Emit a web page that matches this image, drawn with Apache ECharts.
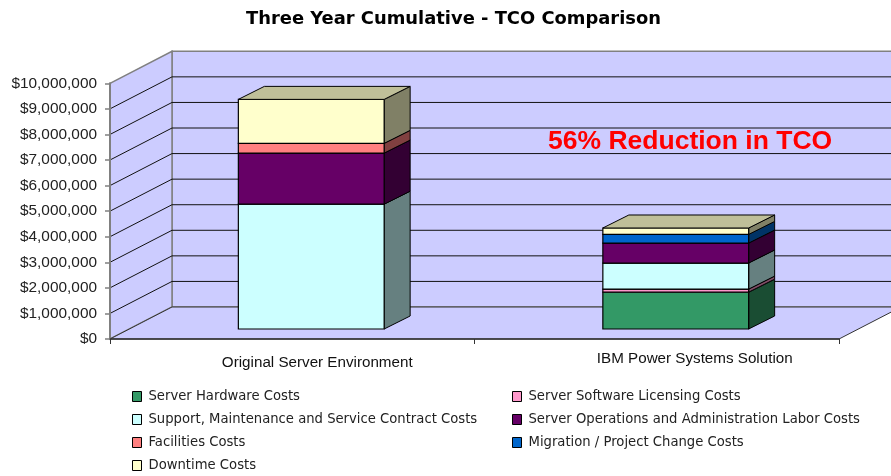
<!DOCTYPE html>
<html>
<head>
<meta charset="utf-8">
<style>html,body{margin:0;padding:0;background:#fff}#chart{width:891px;height:476px}</style>
<script src="https://cdn.jsdelivr.net/npm/echarts@6/dist/echarts.min.js"></script>
</head>
<body>
<div id="chart"></div>
<script>
const categories = ['Original Server Environment', 'IBM Power Systems Solution']
const tickValues = [1000000, 2000000, 3000000, 4000000, 5000000, 6000000, 7000000, 8000000, 9000000]

const hardwareCosts = [0, 1440000]
const softwareCosts = [0, 120000]
const supportCosts = [4880000, 1020000]
const operationsCosts = [2000000, 780000]
const facilitiesCosts = [380000, 0]
const migrationCosts = [0, 340000]
const downtimeCosts = [1720000, 250000]

const costSeries = [
  { name: 'Server Hardware Costs', values: hardwareCosts, color: '#339966' },
  { name: 'Server Software Licensing Costs', values: softwareCosts, color: '#FF99CC' },
  { name: 'Support, Maintenance and Service Contract Costs', values: supportCosts, color: '#CCFFFF' },
  { name: 'Server Operations and Administration Labor Costs', values: operationsCosts, color: '#660066' },
  { name: 'Facilities Costs', values: facilitiesCosts, color: '#FF8080' },
  { name: 'Migration / Project Change Costs', values: migrationCosts, color: '#0066CC' },
  { name: 'Downtime Costs', values: downtimeCosts, color: '#FFFFCC' }
]

// fake 3d: wall depth and where the bars sit inside that depth
const wallDepth = { x: 62, y: -32 }
const barFront = { x: 19, y: -10 }
const barDepth = { x: 26, y: -13 }

function shade(hex, k) {
  const n = parseInt(hex.slice(1), 16)
  const c = [n >> 16, (n >> 8) & 255, n & 255].map((v) => Math.round(v * k))
  return 'rgb(' + c.join(',') + ')'
}

function poly(points, fill, stroke, width) {
  return {
    type: 'polygon',
    shape: { points },
    style: { fill, stroke: stroke || null, lineWidth: width || 1 }
  }
}

function renderWalls(params, api) {
  const r = params.coordSys
  const bottom = r.y + r.height
  const d = wallDepth
  const wall = '#CCCCFF'
  const edge = '#808080'
  return {
    type: 'group',
    children: [
      poly([[r.x + d.x, r.y + d.y], [r.x + r.width + d.x, r.y + d.y], [r.x + r.width + d.x, bottom + d.y], [r.x + d.x, bottom + d.y]], wall, edge, 1.5),
      poly([[r.x, r.y], [r.x + d.x, r.y + d.y], [r.x + d.x, bottom + d.y], [r.x, bottom]], wall, edge, 1.5),
      poly([[r.x, bottom], [r.x + r.width, bottom], [r.x + r.width + d.x, bottom + d.y], [r.x + d.x, bottom + d.y]], wall, '#333', 1)
    ]
  }
}

function renderGridLine(params, api) {
  const r = params.coordSys
  const y = api.coord([0, api.value(0)])[1]
  const d = wallDepth
  return {
    type: 'polyline',
    shape: { points: [[r.x, y], [r.x + d.x, y + d.y], [r.x + r.width + d.x, y + d.y]] },
    style: { fill: null, stroke: '#111', lineWidth: 1 }
  }
}

function renderBar(params, api) {
  const cat = api.value(0)
  const value = api.value(1)
  if (!value) return null
  const base = api.value(2)
  const isTop = api.value(3)
  const w = api.size([1, 0])[0] * 0.4
  const low = api.coord([cat, base])
  const high = api.coord([cat, base + value])
  const x0 = low[0] - w / 2 + barFront.x
  const x1 = x0 + w
  const y0 = low[1] + barFront.y
  const y1 = high[1] + barFront.y
  const col = costSeries[params.seriesIndex - 2].color
  const children = [
    poly([[x1, y0], [x1 + barDepth.x, y0 + barDepth.y], [x1 + barDepth.x, y1 + barDepth.y], [x1, y1]], shade(col, 0.5), '#000', 1),
    poly([[x0, y0], [x1, y0], [x1, y1], [x0, y1]], col, '#000', 1.2)
  ]
  if (isTop) {
    children.push(poly([[x0, y1], [x1, y1], [x1 + barDepth.x, y1 + barDepth.y], [x0 + barDepth.x, y1 + barDepth.y]], shade(col, 0.75), '#000', 1))
  }
  return { type: 'group', children }
}

const totals = categories.map((c, i) => costSeries.reduce((s, item) => s + item.values[i], 0))
const running = categories.map(() => 0)

const barSeries = costSeries.map((item) => {
  const data = item.values.map((v, i) => {
    const base = running[i]
    running[i] += v
    return [i, v, base, running[i] === totals[i] && v > 0 ? 1 : 0]
  })
  return {
    name: item.name,
    type: 'custom',
    renderItem: renderBar,
    itemStyle: { color: item.color },
    encode: { x: 0, y: 1 },
    data,
    silent: true,
    z: 5
  }
})

const legendLeft = [costSeries[0], costSeries[2], costSeries[4], costSeries[6]].map((s) => s.name)
const legendRight = [costSeries[1], costSeries[3], costSeries[5]].map((s) => s.name)
const legendBase = {
  orient: 'vertical',
  top: 389,
  itemWidth: 9,
  itemHeight: 10,
  itemGap: 8,
  icon: 'rect',
  selectedMode: false,
  padding: 0,
  itemStyle: { borderColor: '#000', borderWidth: 1 },
  textStyle: { fontFamily: 'DejaVu Sans', fontSize: 13.2, color: '#222', lineHeight: 15, padding: [0, 0, 0, 2] }
}

const myChart = echarts.init(document.getElementById('chart'), null, { renderer: 'canvas' })
myChart.setOption({
  animation: false,
  backgroundColor: '#fff',
  title: {
    text: 'Three Year Cumulative - TCO Comparison',
    left: 448.5,
    top: 5,
    textAlign: 'center',
    textStyle: { fontFamily: 'DejaVu Sans', fontWeight: 'bold', fontSize: 17.9, color: '#000' }
  },
  grid: { left: 110, right: 52, top: 83.3, bottom: 137, containLabel: false },
  legend: [
    Object.assign({}, legendBase, { left: 132, data: legendLeft }),
    Object.assign({}, legendBase, { left: 512, data: legendRight })
  ],
  xAxis: {
    type: 'category',
    data: categories,
    z: 6,
    axisLine: { show: true, lineStyle: { color: '#333', width: 1.5 } },
    axisTick: { show: true, length: 5, lineStyle: { color: '#333' } },
    splitLine: { show: false },
    axisLabel: {
      interval: 0,
      margin: 12,
      formatter: (v, i) => '{c' + i + '|' + v + '}',
      rich: {
        c0: { fontFamily: 'Liberation Sans', fontSize: 15.2, color: '#111', padding: [4, 0, 0, 50] },
        c1: { fontFamily: 'Liberation Sans', fontSize: 15.2, color: '#111', padding: [0, 0, 0, 76] }
      }
    }
  },
  yAxis: {
    type: 'value',
    min: 0,
    max: 10000000,
    interval: 1000000,
    z: 6,
    axisLine: { show: true, lineStyle: { color: '#808080', width: 2 } },
    axisTick: { show: true, length: 5, lineStyle: { color: '#808080', width: 1.5 } },
    splitLine: { show: false },
    axisLabel: {
      margin: 13,
      fontFamily: 'Liberation Sans',
      fontSize: 15.4,
      color: '#222',
      formatter: (v) => '$' + v.toLocaleString('en-US')
    }
  },
  graphic: [
    {
      type: 'text',
      left: 548,
      top: 128,
      z: 20,
      style: { text: '56% Reduction in TCO', fill: '#FF0000', font: 'bold 26.5px "Liberation Sans"' }
    }
  ],
  series: [
    { type: 'custom', renderItem: renderWalls, data: [0], silent: true, z: 1, encode: { y: 0 } },
    { type: 'custom', renderItem: renderGridLine, data: tickValues.map((v) => [v]), silent: true, z: 2, encode: { y: 0 } }
  ].concat(barSeries)
})
</script>
</body>
</html>
